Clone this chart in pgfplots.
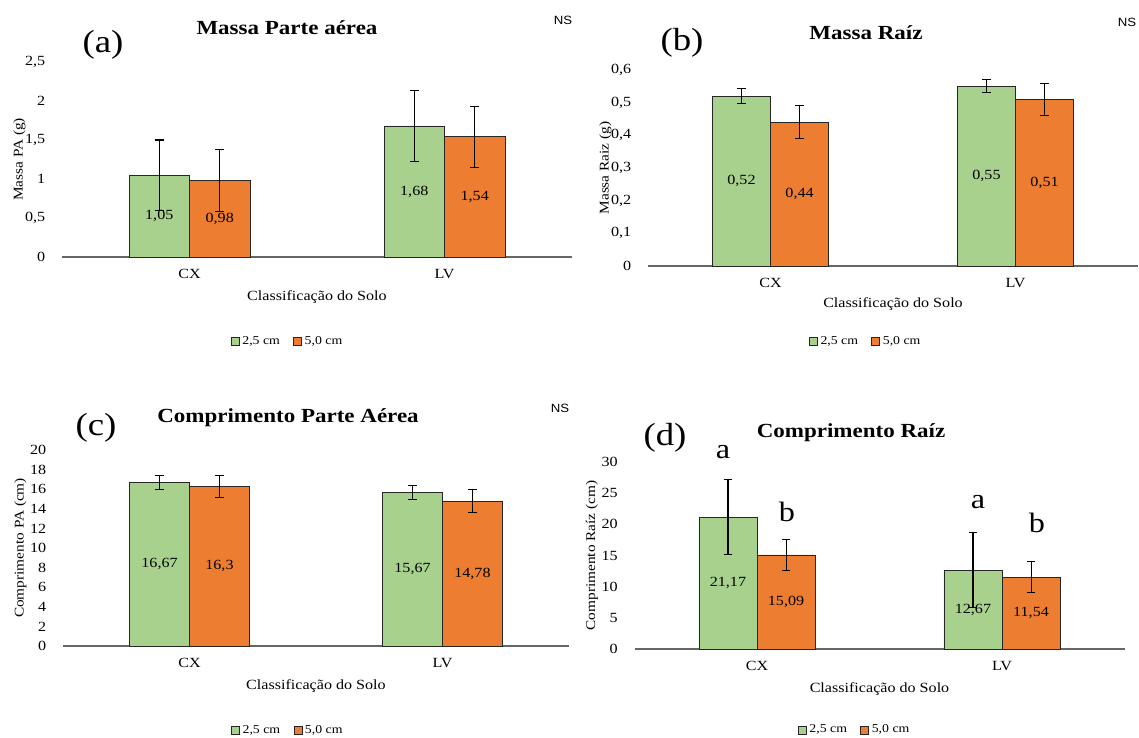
\documentclass[border=0pt]{standalone}
\usepackage{fontspec}
\setmainfont[FakeStretch=1.15]{Liberation Serif}
\newfontfamily\nsfamily[FakeStretch=1.1]{Liberation Sans}
\usepackage{pgfplots}
\pgfplotsset{compat=1.18}
\usepackage{pgfplotstable}

\definecolor{cgreen}{RGB}{169,209,142}
\definecolor{corange}{RGB}{237,125,49}

\newcommand{\tickf}{\fontsize{10.5}{12}\selectfont}
\newcommand{\labf}{\fontsize{10.5}{12}\selectfont}
\newcommand{\ylabf}{\fontsize{10}{12}\selectfont}
\newcommand{\legf}{\fontsize{9}{11}\selectfont}
\newcommand{\titf}{\fontsize{15}{18}\selectfont\bfseries}
\newcommand{\parf}{\fontsize{24}{28}\selectfont}
\newcommand{\letf}{\fontsize{21}{24}\selectfont}
\newcommand{\nsf}{\nsfamily\fontsize{9}{11}\selectfont}

% Massa Parte aerea
\pgfplotstableread{
x y e lab
0 1.05 0.45 1,05
1 1.68 0.45 1,68
}\aG
\pgfplotstableread{
x y e lab
0 0.98 0.40 0,98
1 1.54 0.39 1,54
}\aO
% Massa Raiz
\pgfplotstableread{
x y e lab
0 0.52 0.022 0,52
1 0.55 0.020 0,55
}\bG
\pgfplotstableread{
x y e lab
0 0.44 0.05 0,44
1 0.51 0.05 0,51
}\bO
% Comprimento Parte Aerea
\pgfplotstableread{
x y e lab
0 16.67 0.70 16,67
1 15.67 0.75 15,67
}\cG
\pgfplotstableread{
x y e lab
0 16.30 1.10 16,3
1 14.78 1.15 14,78
}\cO
% Comprimento Raiz
\pgfplotstableread{
x y e lab
0 21.17 6.0 21,17
1 12.67 6.0 12,67
}\dG
\pgfplotstableread{
x y e lab
0 15.09 2.5 15,09
1 11.54 2.5 11,54
}\dO

\pgfplotsset{
  panel/.style={
    scale only axis,
    anchor=south west,
    xmin=-0.5, xmax=1.5, ymin=0,
    enlargelimits=false,
    clip=false,
    xtick={0,1}, xticklabels={CX,LV},
    axis x line*=bottom, axis y line*=left,
    y axis line style={draw=none},
    x axis line style={black!60, line width=1pt},
    major tick length=0pt,
    tick style={draw=none},
    tick label style={font=\tickf},
    /pgf/number format/.cd, use comma, 1000 sep={}, assume math mode=true,
    /pgfplots/.cd,
    yticklabel style={xshift=-9pt},
    xticklabel style={yshift=-6pt},
    xlabel={Classificação do Solo},
    xlabel style={at={(axis description cs:0.5,0)}, anchor=center, yshift=-30pt, font=\labf},
    ylabel style={at={(axis description cs:0,0.5)}, anchor=center, yshift=32pt, font=\ylabf},
    legend style={draw=none, fill=none, font=\legf, legend columns=2,
      /tikz/every even column/.append style={column sep=8pt}},
    legend cell align=left,
  },
  gbar/.style={ybar, bar width=0.237, bar shift=-0.1185, fill=cgreen, draw=black!85, line width=0.6pt,
    legend image code/.code={\draw[fill=cgreen, draw=black!85, line width=0.6pt] (0pt,-3pt) rectangle (6pt,3pt);}},
  obar/.style={ybar, bar width=0.237, bar shift=0.1185, fill=corange, draw=black!85, line width=0.6pt,
    legend image code/.code={\draw[fill=corange, draw=black!85, line width=0.6pt] (0pt,-3pt) rectangle (6pt,3pt);}},
  ebar/.style={forget plot, draw=none, mark=none,
    error bars/.cd, y dir=both, y explicit, error mark=-,
    error bar style={draw=black, line width=0.8pt},
    error mark options={draw=black, rotate=90, mark size=3.2pt, line width=0.8pt}},
  vlab/.style={forget plot, draw=none, mark=none, nodes near coords, point meta=explicit symbolic,
    nodes near coords style={anchor=center, font=\tickf, text=black}},
}

\begin{document}
\begin{tikzpicture}
% (a)
\begin{axis}[panel, at={(46.5pt,360.75pt)}, width=382.5pt, height=146.25pt,
  ymax=2.5, ytick={0,0.5,1,1.5,2,2.5}, ylabel={Massa PA (g)},
  legend style={at={(0.443,-0.431)}, anchor=center}]
\addplot[gbar] table[x=x, y=y] {\aG};
\addplot[obar] table[x=x, y=y] {\aO};
\addplot[vlab] table[x expr=\thisrow{x}-0.1185, y expr=\thisrow{y}/2, meta=lab] {\aG};
\addplot[vlab] table[x expr=\thisrow{x}+0.1185, y expr=\thisrow{y}/2, meta=lab] {\aO};
\addplot[ebar] table[x expr=\thisrow{x}-0.1185, y=y, y error=e] {\aG};
\addplot[ebar] table[x expr=\thisrow{x}+0.1185, y=y, y error=e] {\aO};
\legend{{2,5 cm},{5,0 cm}}
\end{axis}
% (b)
\begin{axis}[panel, at={(486pt,354pt)}, width=367.5pt, height=147pt,
  ymax=0.6, ytick={0,0.1,0.2,0.3,0.4,0.5,0.6}, ylabel={Massa Raiz (g)},
  xlabel style={yshift=1.5pt},
  legend style={at={(0.445,-0.383)}, anchor=center}]
\addplot[gbar] table[x=x, y=y] {\bG};
\addplot[obar] table[x=x, y=y] {\bO};
\addplot[vlab] table[x expr=\thisrow{x}-0.1185, y expr=\thisrow{y}/2, meta=lab] {\bG};
\addplot[vlab] table[x expr=\thisrow{x}+0.1185, y expr=\thisrow{y}/2, meta=lab] {\bO};
\addplot[ebar] table[x expr=\thisrow{x}-0.1185, y=y, y error=e] {\bG};
\addplot[ebar] table[x expr=\thisrow{x}+0.1185, y=y, y error=e] {\bO};
\legend{{2,5 cm},{5,0 cm}}
\end{axis}
% (c)
\begin{axis}[panel, at={(47.25pt,69pt)}, width=379.5pt, height=147pt,
  ymax=20, ytick={0,2,...,20}, ylabel={Comprimento PA (cm)},
  legend style={at={(0.445,-0.429)}, anchor=center}]
\addplot[gbar] table[x=x, y=y] {\cG};
\addplot[obar] table[x=x, y=y] {\cO};
\addplot[vlab] table[x expr=\thisrow{x}-0.1185, y expr=\thisrow{y}/2, meta=lab] {\cG};
\addplot[vlab] table[x expr=\thisrow{x}+0.1185, y expr=\thisrow{y}/2, meta=lab] {\cO};
\addplot[ebar] table[x expr=\thisrow{x}-0.1185, y=y, y error=e] {\cG};
\addplot[ebar] table[x expr=\thisrow{x}+0.1185, y=y, y error=e] {\cO};
\legend{{2,5 cm},{5,0 cm}}
\end{axis}
% (d)
\begin{axis}[panel, at={(475.875pt,66.75pt)}, width=367.5pt, height=140.25pt,
  ymax=30, ytick={0,5,...,30}, ylabel={Comprimento Raíz (cm)},
  legend style={at={(0.45,-0.433)}, anchor=center}]
\addplot[gbar] table[x=x, y=y] {\dG};
\addplot[obar] table[x=x, y=y] {\dO};
\addplot[vlab] table[x expr=\thisrow{x}-0.1185, y expr=\thisrow{y}/2, meta=lab] {\dG};
\addplot[vlab] table[x expr=\thisrow{x}+0.1185, y expr=\thisrow{y}/2, meta=lab] {\dO};
\addplot[ebar] table[x expr=\thisrow{x}-0.1185, y=y, y error=e] {\dG};
\addplot[ebar] table[x expr=\thisrow{x}+0.1185, y=y, y error=e] {\dO};
\legend{{2,5 cm},{5,0 cm}}
\node[font=\letf] at (axis cs:-0.139,31.6) {a};
\node[font=\letf] at (axis cs:0.122,22.0) {b};
\node[font=\letf] at (axis cs:0.902,23.6) {a};
\node[font=\letf] at (axis cs:1.143,20.3) {b};
\end{axis}
% annotations
\begin{scope}[x=0.75pt, y=-0.75pt, yshift=553.5pt]
\node[font=\titf] at (287,28) {Massa Parte aérea};
\node[font=\parf] at (103,45) {(a)};
\node[font=\nsf] at (563,20) {NS};
\node[font=\titf] at (866,33) {Massa Raíz};
\node[font=\parf] at (682,43) {(b)};
\node[font=\nsf] at (1127,22) {NS};
\node[font=\titf] at (288,418) {Comprimento Parte Aérea};
\node[font=\parf] at (96,428) {(c)};
\node[font=\nsf] at (560,408) {NS};
\node[font=\titf] at (851,433) {Comprimento Raíz};
\node[font=\parf] at (665,438) {(d)};
\end{scope}
\pgfresetboundingbox
\path (0,0) rectangle (854.25pt,553.5pt);
\end{tikzpicture}
\end{document}
